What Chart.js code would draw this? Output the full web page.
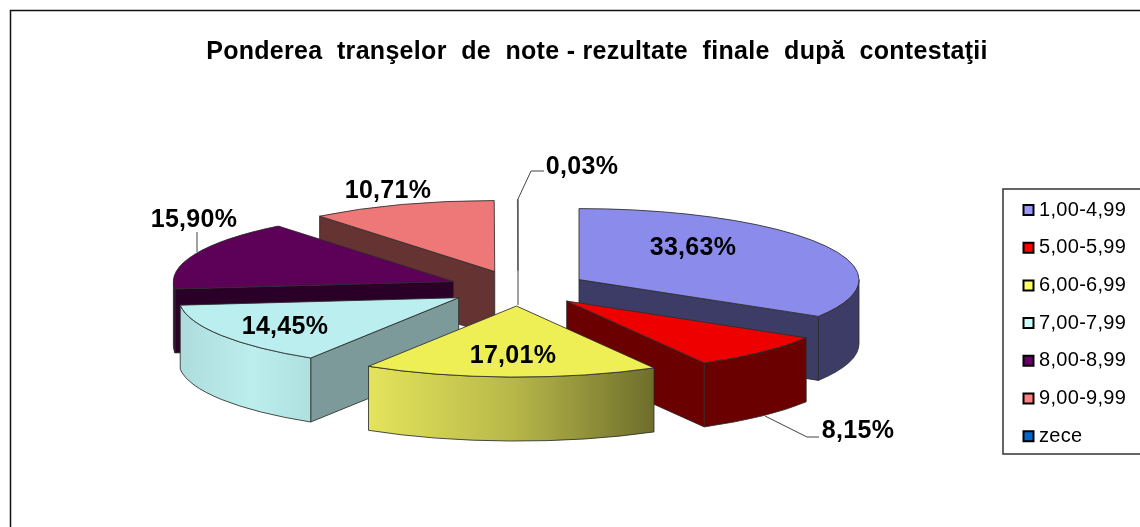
<!DOCTYPE html>
<html>
<head>
<meta charset="utf-8">
<style>html,body{margin:0;padding:0;background:#fff}canvas{display:block}</style>
<script src="https://cdn.jsdelivr.net/npm/chart.js@4/dist/chart.umd.min.js"></script>
</head>
<body>
<canvas id="c" width="1140" height="527"></canvas>
<script>
const titleText = "Ponderea  tranşelor  de  note - rezultate  finale  după  contestaţii";
const categories = ["1,00-4,99","5,00-5,99","6,00-6,99","7,00-7,99","8,00-8,99","9,00-9,99","zece"];
const values = [33.63, 8.15, 17.01, 14.45, 15.90, 10.71, 0.03];
const topColors = ["#8b8bec","#ee0000","#eeee55","#bbeeee","#5d0058","#ee7777","#0060be"];
const legendColors = ["#9999ff","#ff0000","#ffff66","#ccffff","#660066","#ff8080","#0066cc"];
const sideColors = ["#3c3c66","#6b0000","#7a7a30","#7c9a9a","#2a0028","#663333","#00264d"];
const drawOrder = [5,4,0,6,1,3,2];

const geo = {cx:518, cy:288.3, r:280, squash:71/280, explode:70, depth:64};
const edge = "rgba(45,45,45,0.85)";
const labelPlacement = [[693,248],[858,431],[513,356],[285,327],[194,220],[388,191],[582,167]];
const leaderLines = {
  4:[[197,252],[197,232]],
  1:[[765,416],[807,437],[819,437]],
  6:[[518,305],[518,199],[531,171],[544,171]]
};

function fmt(v){ return v.toFixed(2).replace(".",",")+"%"; }
function sliceCentre(arc){
  const h=(arc.startAngle+arc.endAngle)/2;
  return {x:geo.cx+Math.cos(h)*geo.explode, y:geo.cy+Math.sin(h)*geo.explode*geo.squash};
}
function wall(ctx,fill,build){
  ctx.beginPath(); build(ctx); ctx.closePath();
  ctx.fillStyle=fill; ctx.fill();
  ctx.lineWidth=1; ctx.strokeStyle=edge; ctx.stroke();
}
function drawSlice(chart,ctx,arc,i){
  const c=sliceCentre(arc), a=arc.startAngle, b=arc.endAngle, r=arc.outerRadius, ry=r*geo.squash, d=geo.depth;
  const pt=t=>[c.x+Math.cos(t)*r, c.y+Math.sin(t)*ry];
  const radial=t=>{
    const p=pt(t);
    wall(ctx,sideColors[i],g=>{g.moveTo(c.x,c.y);g.lineTo(p[0],p[1]);g.lineTo(p[0],p[1]+d);g.lineTo(c.x,c.y+d);});
  };
  if(i!==6){
    if(Math.sin(a-Math.PI/2)>0.01) radial(a);
    if(Math.sin(b+Math.PI/2)>0.01) radial(b);
    const sa=Math.max(a,0), sb=Math.min(b,Math.PI);
    if(sb>sa){
      let fill=sideColors[i];
      const p1=pt(sa), p2=pt(sb), lo=Math.min(p1[0],p2[0]), hi=Math.max(p1[0],p2[0]);
      if(i===2){
        fill=ctx.createLinearGradient(lo,0,hi,0);
        fill.addColorStop(0,"#e4e45c");fill.addColorStop(.5,"#b8b84a");fill.addColorStop(1,"#6e6e2c");
      } else if(i===3){
        fill=ctx.createLinearGradient(lo,0,hi,0);
        fill.addColorStop(0,"#aedcdc");fill.addColorStop(.55,"#bceeee");fill.addColorStop(1,"#aee0e0");
      }
      wall(ctx,fill,g=>{
        g.ellipse(c.x,c.y,r,ry,0,sa,sb,false);
        g.lineTo(p2[0],p2[1]+d);
        g.ellipse(c.x,c.y+d,r,ry,0,sb,sa,true);
      });
    }
  }
  ctx.save();
  ctx.translate(c.x,c.y); ctx.scale(1,geo.squash); ctx.translate(-arc.x,-arc.y);
  arc.draw(ctx);
  ctx.restore();
  ctx.beginPath();
  ctx.moveTo(c.x,c.y);
  ctx.ellipse(c.x,c.y,r,ry,0,a,b,false);
  ctx.closePath();
  ctx.lineWidth=1;
  ctx.strokeStyle= i===6 ? "#777" : edge;
  ctx.stroke();
}

const pie3d = {
  id:"pie3d",
  beforeUpdate(chart){ chart.ctx.letterSpacing="0.3px"; },
  afterLayout(chart){
    const l=chart.legend, p=chart.options.plugins.legend.labels.padding;
    l.left=1028-p; l.right=1140; l.width=l.right-l.left;
    l.top=200-p; l.bottom=l.top+l.height;
    const t=chart.titleBlock;
    t.left=54; t.right=1140; t.width=1086; t.top=0; t.bottom=t.height;
  },
  beforeDraw(chart){
    const ctx=chart.ctx;
    ctx.letterSpacing="0.3px";
    ctx.save();
    ctx.fillStyle="#fff"; ctx.fillRect(0,0,1140,527);
    ctx.strokeStyle="#111"; ctx.lineWidth=1.5;
    ctx.strokeRect(10.5,10.5,1200,600);
    ctx.strokeStyle="#333"; ctx.lineWidth=1.5;
    ctx.strokeRect(1003,189,300,265);
    ctx.restore();
  },
  beforeDatasetDraw(chart,args){
    const ctx=chart.ctx, arcs=args.meta.data;
    drawOrder.forEach(i=>drawSlice(chart,ctx,arcs[i],i));
    return false;
  },
  afterDatasetsDraw(chart){
    const ctx=chart.ctx;
    ctx.save();
    ctx.strokeStyle="#444"; ctx.lineWidth=1;
    Object.values(leaderLines).forEach(pts=>{
      ctx.beginPath();
      pts.forEach((p,k)=>k?ctx.lineTo(p[0],p[1]):ctx.moveTo(p[0],p[1]));
      ctx.stroke();
    });
    ctx.fillStyle="#000";
    ctx.font="bold 25px 'Liberation Sans'";
    ctx.textAlign="center"; ctx.textBaseline="middle";
    values.forEach((v,i)=>ctx.fillText(fmt(v),labelPlacement[i][0],labelPlacement[i][1]));
    ctx.restore();
  }
};

new Chart(document.getElementById("c"),{
  type:"pie",
  plugins:[pie3d],
  data:{labels:categories,datasets:[{data:values,backgroundColor:topColors,borderWidth:0}]},
  options:{
    responsive:false,animation:false,devicePixelRatio:1,
    radius:geo.r,
    plugins:{
      tooltip:{enabled:false},
      title:{display:true,text:titleText,color:"#000",padding:{top:37,bottom:10},
        font:{family:"'Liberation Sans'",size:25,weight:"bold",lineHeight:1.2}},
      legend:{display:true,position:"right",align:"start",
        labels:{color:"#222",font:{family:"'Liberation Sans'",size:20},padding:17.7,
          usePointStyle:true,pointStyle:"rect",boxWidth:1,boxHeight:10,
          generateLabels:()=>categories.map((t,i)=>({text:t,fillStyle:legendColors[i],strokeStyle:"#000",lineWidth:2,pointStyle:"rect",index:i,hidden:false}))}}
    }
  }
});
</script>
</body>
</html>
